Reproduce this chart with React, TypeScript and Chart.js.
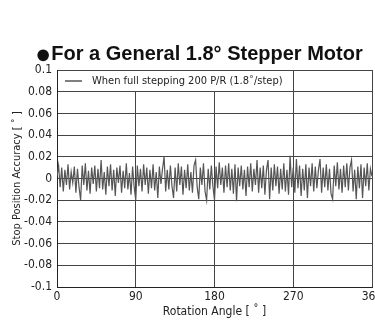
import React, { useEffect, useRef } from "react";
import { Chart, registerables } from "chart.js";

Chart.register(...registerables);

const TITLE_BULLET = "●";
const TITLE = "For a General 1.8° Stepper Motor";
const LEGEND_LABEL = "When full stepping 200 P/R (1.8˚/step)";
const X_TITLE = "Rotation Angle [ ˚ ]";
const Y_TITLE = "Stop Position Accuracy [ ˚ ]";
const STEP_ANGLE = 1.8;
const X_MIN = 0;
const X_MAX = 360;
const X_STEP = 90;
const Y_MIN = -0.1;
const Y_MAX = 0.1;
const Y_STEP = 0.02;
const LEGEND_RIGHT_ANGLE = 270;
const LEGEND_BOTTOM_VALUE = 0.08;

const ACCURACY = [
  0.002, 0.012, -0.008, 0.010, -0.012, 0.008, -0.006, 0.013, -0.010, 0.006,
  -0.004, 0.011, -0.013, 0.009, -0.008, -0.020, 0.012, -0.006, 0.014, -0.011,
  0.007, -0.014, 0.010, -0.005, 0.012, -0.012, 0.009, -0.009, 0.017, -0.010,
  0.006, -0.015, 0.011, -0.007, 0.013, -0.011, 0.008, -0.016, 0.010, -0.004,
  0.012, -0.013, 0.007, -0.009, 0.014, -0.010, 0.005, -0.015, 0.011, -0.008,
  -0.020, 0.012, -0.007, 0.009, -0.012, 0.013, -0.006, 0.010, -0.014, 0.008,
  -0.009, 0.013, -0.011, 0.006, -0.018, 0.011, -0.005, 0.009, 0.020, -0.012,
  0.008, -0.010, 0.012, -0.007, -0.018, 0.010, -0.012, 0.014, -0.006, 0.011,
  -0.015, 0.008, -0.009, 0.013, -0.011, 0.006, -0.013, 0.012, 0.017, -0.008,
  -0.019, 0.010, -0.006, 0.014, -0.012, -0.020, 0.009, -0.010, 0.012, -0.007,
  -0.020, 0.011, -0.009, 0.015, -0.006, 0.010, -0.013, 0.012, -0.008, 0.014,
  -0.011, 0.009, -0.014, 0.013, -0.021, 0.010, -0.007, 0.012, -0.010, 0.008,
  -0.016, 0.011, -0.008, 0.014, -0.012, 0.009, -0.006, 0.017, -0.013, 0.010,
  -0.009, 0.012, -0.015, 0.008, 0.017, -0.019, 0.010, -0.011, 0.013, -0.007,
  0.011, -0.014, 0.009, -0.010, 0.014, -0.012, 0.008, -0.015, 0.021, -0.008,
  0.010, -0.013, 0.018, -0.009, 0.012, -0.016, 0.009, -0.011, 0.013, -0.018,
  0.010, -0.007, 0.014, -0.012, 0.011, -0.009, 0.008, 0.018, -0.013, 0.010,
  -0.008, 0.013, -0.011, 0.009, -0.014, -0.019, 0.012, -0.007, 0.015, -0.010,
  0.009, -0.013, 0.012, -0.008, 0.014, -0.011, 0.010, 0.017, -0.012, 0.008,
  -0.019, 0.011, -0.009, 0.013, -0.018, 0.010, -0.007, 0.014, -0.011, 0.009,
  0.002,
];

const FONT = "'Liberation Sans Narrow', 'DejaVu Sans Condensed', 'Liberation Sans', sans-serif";
const LINE_COLOR = "#555555";
const GRID_COLOR = "#444444";
const TEXT_COLOR = "#222222";

const legendBoxPlugin = {
  id: "legendBox",
  beforeDatasetsDraw(chart: any) {
    const { ctx, chartArea, scales } = chart;
    const x = scales.x;
    const y = scales.y;
    const left = Math.round(chartArea.left);
    const top = Math.round(chartArea.top);
    const right = Math.round(x.getPixelForValue(LEGEND_RIGHT_ANGLE));
    const bottom = Math.round(y.getPixelForValue(LEGEND_BOTTOM_VALUE));
    ctx.save();
    ctx.fillStyle = "#ffffff";
    ctx.fillRect(left + 1, top + 1, right - left - 2, bottom - top - 2);
    const midY = (top + bottom) / 2;
    ctx.strokeStyle = LINE_COLOR;
    ctx.lineWidth = 1.5;
    ctx.beginPath();
    ctx.moveTo(left + 8, midY);
    ctx.lineTo(left + 25, midY);
    ctx.stroke();
    ctx.fillStyle = TEXT_COLOR;
    ctx.font = `11px ${FONT}`;
    ctx.textBaseline = "middle";
    ctx.textAlign = "left";
    ctx.fillText(LEGEND_LABEL, left + 35, midY);
    ctx.restore();
  },
};

export default function App() {
  const canvasRef = useRef<HTMLCanvasElement | null>(null);

  useEffect(() => {
    if (!canvasRef.current) return;
    const points = ACCURACY.map((v, i) => ({ x: i * STEP_ANGLE, y: v }));
    const chart = new Chart(canvasRef.current, {
      type: "line",
      data: {
        datasets: [
          {
            label: LEGEND_LABEL,
            data: points,
            borderColor: LINE_COLOR,
            borderWidth: 1.2,
            pointRadius: 0,
            tension: 0,
            fill: false,
          },
        ],
      },
      options: {
        animation: false,
        responsive: false,
        devicePixelRatio: 1,
        layout: { padding: { left: 0, right: 3, top: 70, bottom: 0 } },
        plugins: {
          legend: { display: false },
          tooltip: { enabled: false },
          title: { display: false },
        },
        scales: {
          x: {
            type: "linear",
            min: X_MIN,
            max: X_MAX,
            ticks: {
              stepSize: X_STEP,
              color: TEXT_COLOR,
              font: { family: FONT, size: 12 },
              padding: 3,
              maxRotation: 0,
            },
            grid: { color: GRID_COLOR, lineWidth: 1, drawTicks: false },
            border: { color: "#222222", width: 1 },
            title: {
              display: true,
              text: X_TITLE,
              color: TEXT_COLOR,
              font: { family: FONT, size: 12 },
              padding: { top: 0, bottom: 1 },
            },
            afterFit(scale: any) {
              scale.height = 33;
              scale.paddingLeft = 0;
              scale.paddingRight = 0;
            },
          },
          y: {
            type: "linear",
            min: Y_MIN,
            max: Y_MAX,
            ticks: {
              stepSize: Y_STEP,
              color: TEXT_COLOR,
              font: { family: FONT, size: 12 },
              padding: 5,
              callback: (v: any) => String(Number(Number(v).toFixed(2))),
            },
            grid: { color: GRID_COLOR, lineWidth: 1, drawTicks: false },
            border: { color: "#222222", width: 1 },
            title: {
              display: true,
              text: Y_TITLE,
              color: TEXT_COLOR,
              font: { family: FONT, size: 11 },
              padding: { top: 11, bottom: 0 },
            },
            afterFit(scale: any) {
              scale.width = 57;
              scale.paddingTop = 0;
              scale.paddingBottom = 0;
            },
          },
        },
      },
      plugins: [legendBoxPlugin],
    });
    return () => chart.destroy();
  }, []);

  return (
    <div style={{ position: "absolute", left: 0, top: 0, width: 375, height: 320, background: "#fff" }}>
      <canvas ref={canvasRef} width={375} height={320} style={{ display: "block" }} />
      <div
        style={{
          position: "absolute",
          left: 35,
          top: 43,
          height: 20,
          fontFamily: "'Liberation Sans', Arial, sans-serif",
          fontWeight: "bold",
          fontSize: 20,
          lineHeight: "20px",
          color: "#111",
          whiteSpace: "nowrap",
          display: "flex",
          alignItems: "center",
        }}
      >
        <span style={{ fontSize: 27, lineHeight: "20px", marginTop: 1, fontWeight: "normal" }}>{TITLE_BULLET}</span>
        <span>{TITLE}</span>
      </div>
    </div>
  );
}
